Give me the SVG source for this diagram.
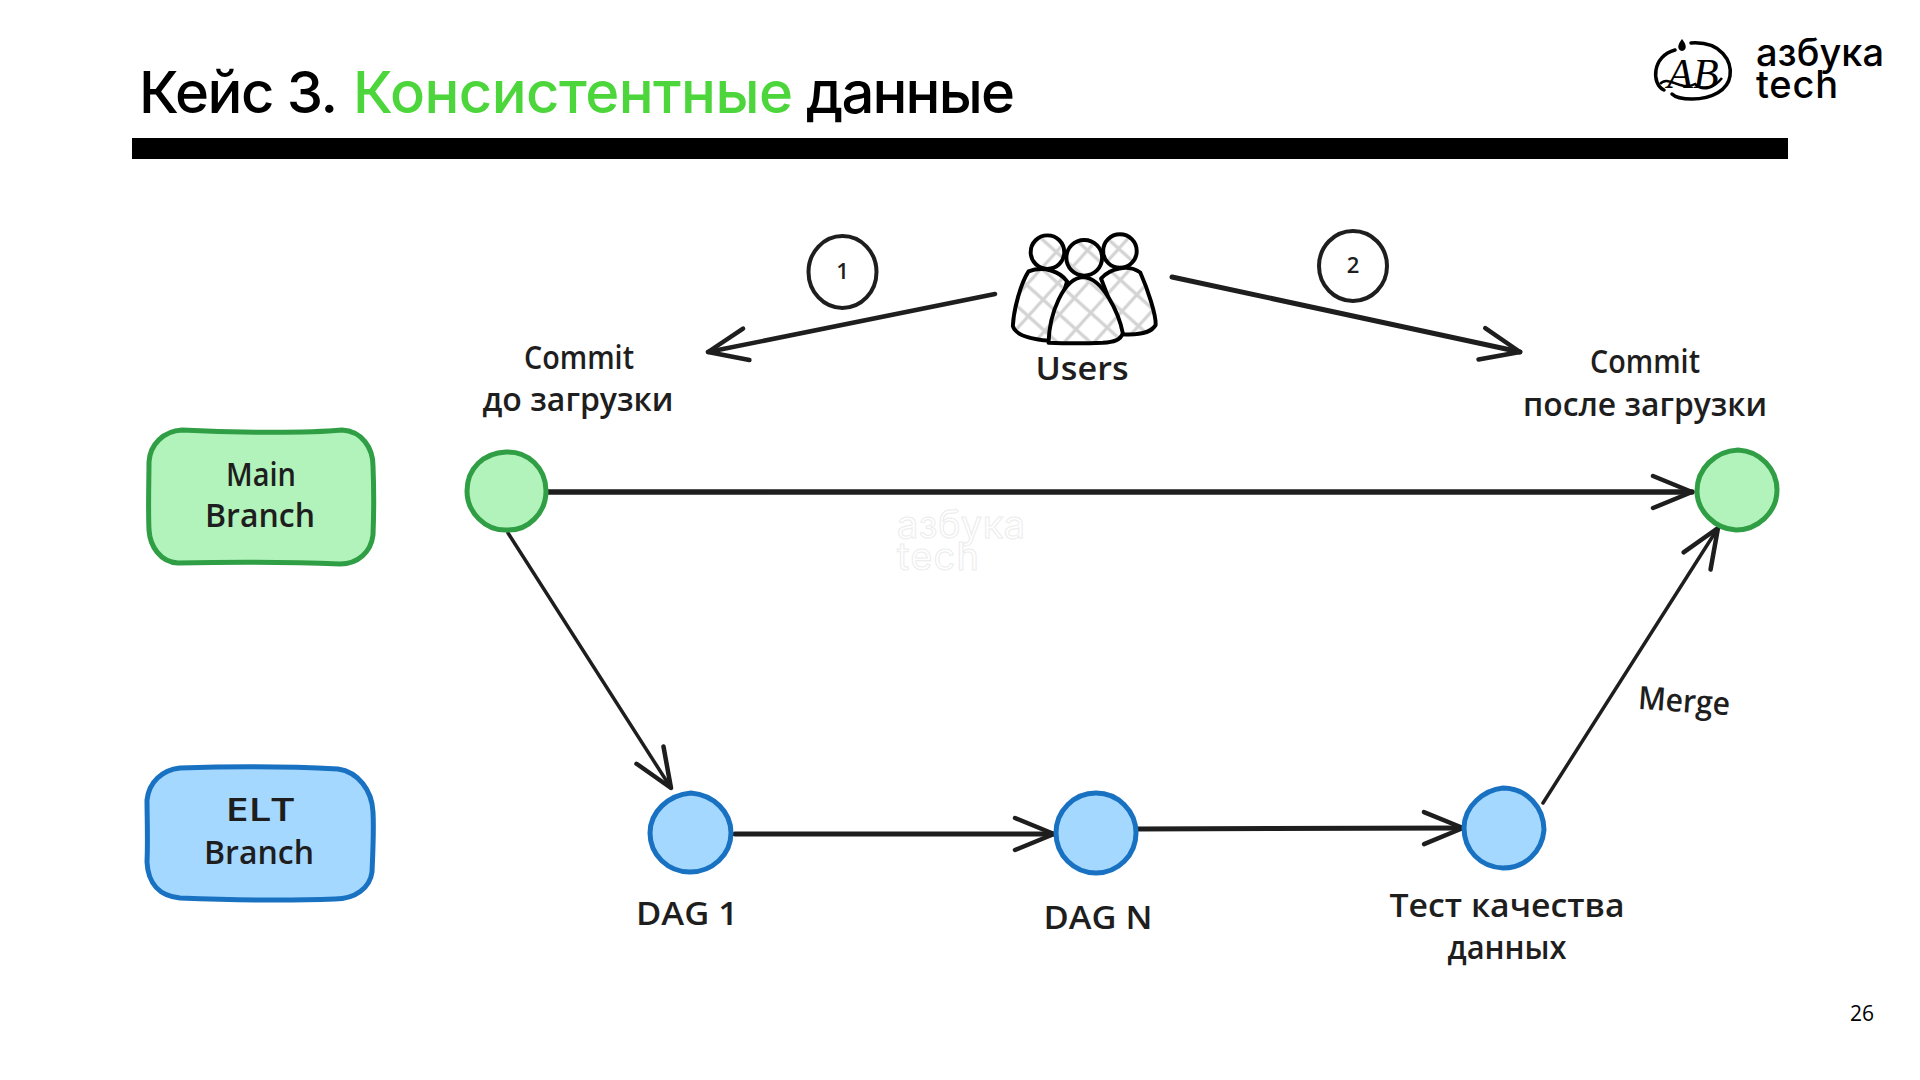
<svg xmlns="http://www.w3.org/2000/svg" width="1920" height="1080" viewBox="0 0 1920 1080">
<style>
.hand{font-family:"Open Sans","DejaVu Sans",sans-serif;font-size:32px;font-weight:600;fill:#1e1e1e;text-anchor:middle}
.small{font-size:22px}
.title{font-family:Inter,"Noto Sans",sans-serif;font-size:58px;font-weight:500;fill:#000}
.logo{font-family:Inter,"Noto Sans",sans-serif;font-size:38px;font-weight:500;fill:#000}
.mark{font-family:Inter,"Noto Sans",sans-serif;font-size:38px;fill:#fff;stroke:#ececec;stroke-width:1}
.green{fill:#b2f2bb;stroke:#2f9e44;stroke-width:5}
.blue{fill:#a5d8ff;stroke:#1971c2;stroke-width:5}
.edge{fill:none;stroke:#1e1e1e;stroke-linecap:round;marker-end:url(#head)}
.ring{fill:#fff;stroke:#1e1e1e;stroke-width:4}
.user{fill:url(#hatch);stroke:#000;stroke-width:11;stroke-linejoin:round}
</style>
<defs>
<marker id="head" markerUnits="userSpaceOnUse" markerWidth="60" markerHeight="50" refX="42" refY="20" orient="auto" overflow="visible">
<path d="M3,4 L42,20 L3,36" fill="none" stroke="#1e1e1e" stroke-width="4.5" stroke-linecap="round" stroke-linejoin="round"/>
</marker>
<pattern id="hatch" width="62" height="62" patternUnits="userSpaceOnUse" patternTransform="rotate(42)">
<rect width="62" height="62" fill="#fff"/>
<path d="M0,31H62M31,0V62" stroke="#d4d4d4" stroke-width="9"/>
</pattern>
</defs>
<rect width="1920" height="1080" fill="#fff"/>

<g id="header">
<text class="title" x="139" y="113" textLength="199">Кейс 3.</text>
<text class="title" x="353" y="113" textLength="440" style="fill:#4cd63c">Консистентные</text>
<text class="title" x="806" y="113" textLength="209">данные</text>
<rect x="132" y="138" width="1656" height="21" fill="#000"/>
</g>

<g id="logo">
<path d="M1675,50C1652,56 1651,84 1664,90M1691,43C1722,41 1732,62 1730,76C1728,90 1712,99 1692,99C1682,99 1675,97 1672,94" fill="none" stroke="#000" stroke-width="3.5" stroke-linecap="round"/>
<path d="M1682,39C1677,45 1677,50 1682,51C1687,50 1687,45 1682,39Z" fill="#000"/>
<path d="M1660,84C1668,74 1680,92 1695,84C1703,92 1714,88 1722,78" fill="none" stroke="#000" stroke-width="2.5"/>
<text x="1693" y="88" text-anchor="middle" font-family="Liberation Serif,serif" font-style="italic" font-size="42" fill="#000">АВ</text>
<text class="logo" x="1756" y="66" textLength="128">азбука</text>
<text class="logo" x="1756" y="98" textLength="82">tech</text>
</g>

<g id="watermark">
<text class="mark" x="897" y="538" textLength="128">азбука</text>
<text class="mark" x="897" y="570" textLength="82">tech</text>
</g>

<g id="connectors">
<path class="edge" stroke-width="4.5" d="M995,294L708,352"/>
<path class="edge" stroke-width="5" d="M1172,277L1520,352"/>
<path class="edge" stroke-width="5.5" d="M547,492L1692,492"/>
<path class="edge" stroke-width="3.5" d="M508,533L671,788"/>
<path class="edge" stroke-width="5" d="M735,834L1054,834"/>
<path class="edge" stroke-width="5" d="M1135,829L1463,828"/>
<path class="edge" stroke-width="3.5" d="M1543,803L1718,528"/>
</g>

<g id="users">
<g transform="translate(960,210) scale(.357)">
<path class="user" d="M300,200C280,172 235,156 192,172C170,205 150,280 148,325C155,350 200,362 250,366Z"/>
<path class="user" d="M395,192C420,165 470,150 505,175C525,220 550,295 548,322C535,346 490,350 455,348Z"/>
<circle class="user" cx="245" cy="118" r="47"/>
<circle class="user" cx="448" cy="115" r="47"/>
<circle class="user" cx="348" cy="134" r="50"/>
<path class="user" d="M248,372C250,290 290,190 345,188C400,190 445,290 456,345C450,365 430,370 400,372C350,374 300,374 248,372Z"/>
</g>
<text class="hand" x="1082" y="380" textLength="93" lengthAdjust="spacingAndGlyphs">Users</text>
</g>

<g id="step-1"><ellipse class="ring" cx="842.5" cy="272" rx="34" ry="36"/><text class="hand small" x="842.5" y="279">1</text></g>
<g id="step-2"><ellipse class="ring" cx="1353" cy="266" rx="34" ry="35"/><text class="hand small" x="1353" y="273">2</text></g>

<g id="label-before"><text class="hand" x="579" y="369" textLength="110" lengthAdjust="spacingAndGlyphs">Commit</text><text class="hand" x="578" y="411" textLength="191" lengthAdjust="spacingAndGlyphs">до загрузки</text></g>
<g id="label-after"><text class="hand" x="1645" y="373" textLength="110" lengthAdjust="spacingAndGlyphs">Commit</text><text class="hand" x="1645" y="416" textLength="244" lengthAdjust="spacingAndGlyphs">после загрузки</text></g>

<g id="main-branch">
<path class="green" d="M182,430C240,433 310,433 342,430C362,431 373,448 373,466C374,490 374,510 373,535C371,552 358,564 340,564C290,562 230,562 178,563C160,562 150,546 149,530C148,505 149,480 149,462C150,444 164,431 182,430Z"/>
<text class="hand" x="261" y="486" textLength="70" lengthAdjust="spacingAndGlyphs">Main</text>
<text class="hand" x="260" y="527" textLength="110" lengthAdjust="spacingAndGlyphs">Branch</text>
</g>
<g id="elt-branch">
<path class="blue" d="M180,768C240,766 300,767 338,769C358,772 372,790 373,812C374,830 373,850 372,872C370,888 355,899 335,899C285,901 230,900 180,898C160,896 148,884 147,862C148,840 147,815 147,800C149,782 162,770 180,768Z"/>
<text class="hand" x="260" y="821" textLength="69" lengthAdjust="spacingAndGlyphs">ELT</text>
<text class="hand" x="259" y="864" textLength="110" lengthAdjust="spacingAndGlyphs">Branch</text>
</g>

<g id="commit-before"><path class="green" d="M506,452C528,451 546,468 546,491C546,513 528,531 507,530C485,531 467,512 467,491C467,468 484,453 506,452Z"/></g>
<g id="commit-after"><path class="green" d="M1738,450C1760,451 1777,469 1777,490C1777,513 1757,530 1736,530C1715,529 1697,511 1697,491C1697,469 1715,451 1738,450Z"/></g>
<g id="dag-1"><path class="blue" d="M691,793C714,795 731,812 731,833C731,855 712,872 690,872C668,872 650,855 650,833C650,812 668,795 691,793Z"/><text class="hand" x="687" y="925" textLength="102" lengthAdjust="spacingAndGlyphs">DAG 1</text></g>
<g id="dag-n"><circle class="blue" cx="1096" cy="833" r="40"/><text class="hand" x="1098" y="929" textLength="109" lengthAdjust="spacingAndGlyphs">DAG N</text></g>
<g id="quality-test"><path class="blue" d="M1503,788C1527,788 1544,808 1544,830C1542,852 1525,868 1503,868C1480,867 1464,850 1464,828C1464,806 1484,790 1503,788Z"/>
<text class="hand" x="1507" y="917" textLength="235" lengthAdjust="spacingAndGlyphs">Тест качества</text>
<text class="hand" x="1507" y="959" textLength="119" lengthAdjust="spacingAndGlyphs">данных</text></g>
<text id="merge-label" class="hand" x="1684" y="712" textLength="92" lengthAdjust="spacingAndGlyphs" transform="rotate(4 1684 702)">Merge</text>
<text id="page-number" x="1850" y="1021" font-family="Open Sans,sans-serif" font-size="21" fill="#000">26</text>
</svg>
